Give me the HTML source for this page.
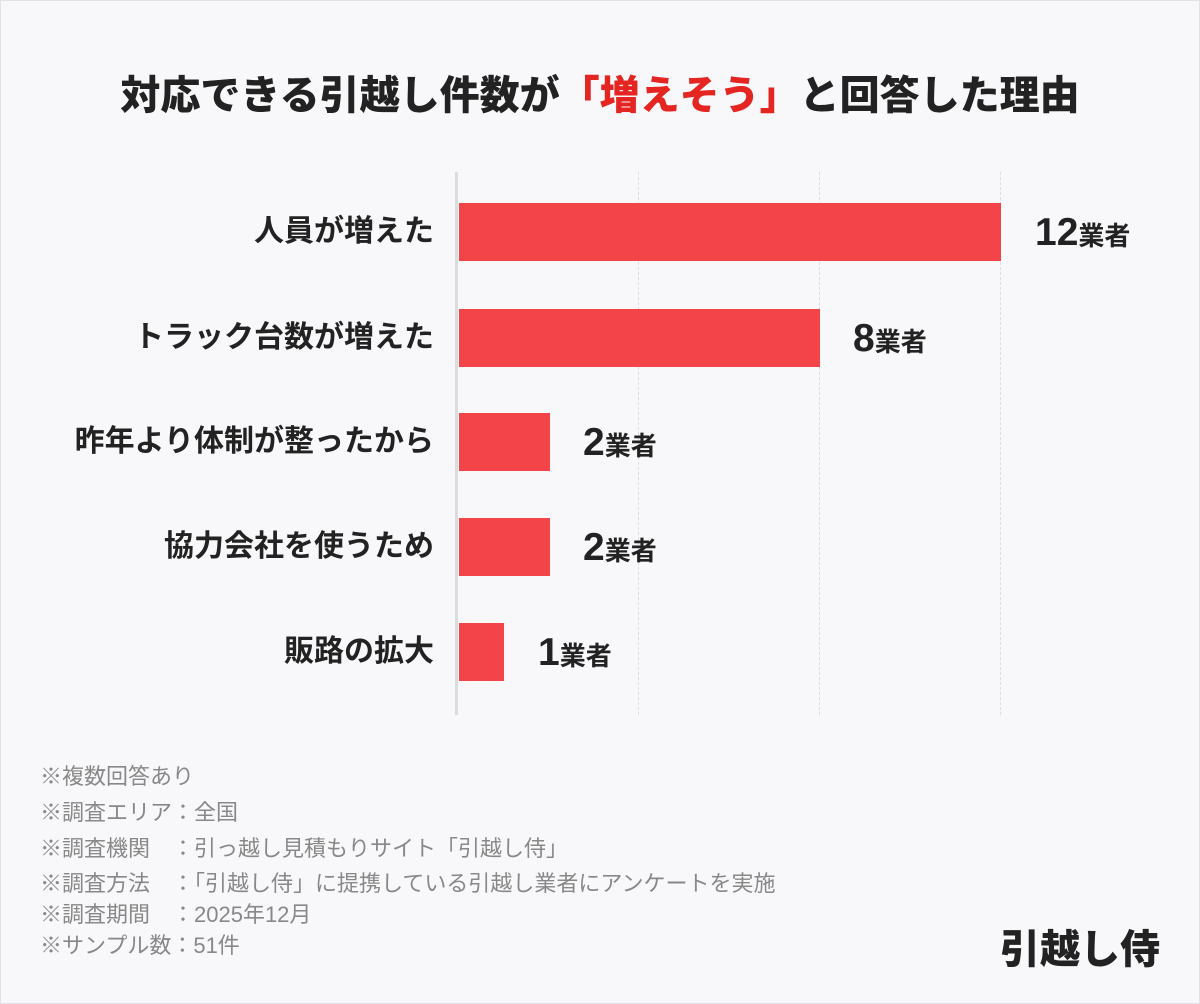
<!DOCTYPE html>
<html><head><meta charset="utf-8"><style>
body{margin:0;width:1200px;height:1004px;background:#f8f8fa;font-family:"Liberation Sans","Noto Sans CJK JP",sans-serif;position:relative;overflow:hidden}
.frame{position:absolute;left:0;top:0;width:1198px;height:1002px;border:1px solid #e2e2e6}
.a{position:absolute;white-space:nowrap}
.t{left:0;width:1200px;text-align:center;top:63px;font-size:40px;font-weight:900;color:#222}
.t span{color:#e52521}
.lab{right:766px;font-size:30px;font-weight:700;color:#222;line-height:34px}
.bar{left:459px;height:58px;background:#f24449}
.val{font-size:39px;font-weight:900;color:#222;line-height:44px}
.val small{font-size:26px;font-weight:700}
.grid{top:172px;height:543px;border-left:1.5px dashed #ddd;width:0}
.n{left:40px;font-size:22px;color:#888;line-height:24px}
</style></head><body>
<div class="frame"></div>
<div class="a t">対応できる引越し件数が<span>「増えそう」</span>と回答した理由</div>
<div class="a grid" style="left:638px"></div>
<div class="a grid" style="left:819px"></div>
<div class="a grid" style="left:1000px"></div>
<div class="a" style="left:455px;top:172px;width:3px;height:543px;background:#dcdcdc"></div>
<div class="a bar" style="top:203px;width:542px"></div>
<div class="a bar" style="top:309px;width:361px"></div>
<div class="a bar" style="top:413px;width:91px"></div>
<div class="a bar" style="top:518px;width:91px"></div>
<div class="a bar" style="top:623px;width:45px"></div>
<div class="a lab" style="top:215px">人員が増えた</div>
<div class="a lab" style="top:321px">トラック台数が増えた</div>
<div class="a lab" style="top:425px">昨年より体制が整ったから</div>
<div class="a lab" style="top:530px">協力会社を使うため</div>
<div class="a lab" style="top:635px">販路の拡大</div>
<div class="a val" style="left:1035px;top:211px">12<small>業者</small></div>
<div class="a val" style="left:853px;top:317px">8<small>業者</small></div>
<div class="a val" style="left:583px;top:421px">2<small>業者</small></div>
<div class="a val" style="left:583px;top:526px">2<small>業者</small></div>
<div class="a val" style="left:538px;top:631px">1<small>業者</small></div>
<div class="a n" style="top:765px">※複数回答あり</div>
<div class="a n" style="top:801px">※調査エリア：全国</div>
<div class="a n" style="top:837px">※調査機関　：引っ越し見積もりサイト「引越し侍」</div>
<div class="a n" style="top:872px">※調査方法　：「引越し侍」に提携している引越し業者にアンケートを実施</div>
<div class="a n" style="top:903px">※調査期間　：2025年12月</div>
<div class="a n" style="top:934px">※サンプル数：51件</div>
<div class="a" style="left:1000px;top:917px;font-size:40px;font-weight:900;color:#222">引越し侍</div>
</body></html>
